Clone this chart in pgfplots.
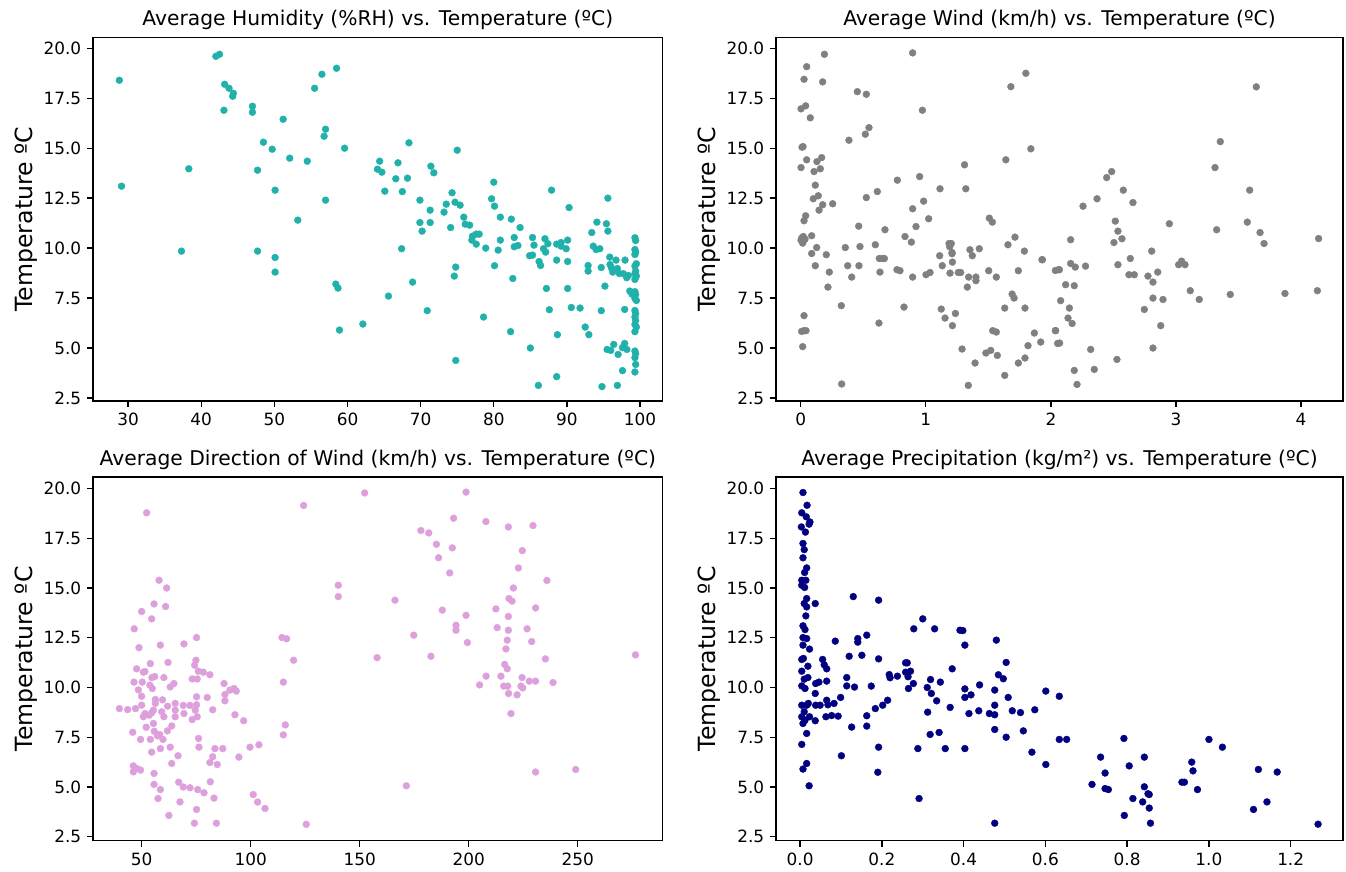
\documentclass[border=0pt]{standalone}
\usepackage{pgfplots}
\pgfplotsset{compat=1.18}
\usepackage{fontspec}
\setmainfont{DejaVu Sans}
\definecolor{cseagreen}{HTML}{20B2AA}
\definecolor{cgray}{HTML}{808080}
\definecolor{cplum}{HTML}{DDA0DD}
\definecolor{cnavy}{HTML}{000080}
\pgfplotsset{
  panel/.style={
    scale only axis, anchor=south west,
    height=215.3pt,
    axis line style={line width=0.8pt},
    tick align=outside, xtick pos=left, ytick pos=left,
    major tick length=3.5pt, tick style={black, line width=0.8pt},
    ticklabel style={font=\fontsize{10}{12}\selectfont},
    /pgf/number format/assume math mode=true,
    title style={font=\fontsize{12}{14}\selectfont, yshift=-5.3pt},
    ylabel style={font=\fontsize{14}{17}\selectfont},
    ylabel shift=-3pt,
    ylabel={Temperature ºC},
    ytick={2.5,5,7.5,10,12.5,15,17.5,20},
    yticklabel style={/pgf/number format/.cd, fixed, fixed zerofill, precision=1},
  },
  dots/.style={only marks, mark=*, color=#1, mark size=2.05pt, mark options={solid, line width=0.2pt, draw=#1, fill=#1}},
}
\begin{document}
\begin{tikzpicture}
\path[use as bounding box] (0,0) rectangle (796.83pt,516.22pt);
% ---------------- Panel 1
\begin{axis}[panel, at={(55.06pt,278.83pt)}, width=337.26pt,
  xmin=25.2, xmax=103.1, ymin=2.35, ymax=20.55,
  xtick={30,40,...,100},
  title={Average Humidity (\%RH) vs. Temperature (ºC)}]
\addplot[dots=cseagreen] table {
x y
28.8 18.4
29.1 13.1
38.3 13.97
42.0 19.6
42.5 19.7
43.2 18.2
43.8 18.0
44.4 17.75
44.3 17.6
43.1 16.9
47.0 17.1
47.0 16.8
51.2 16.45
48.5 15.3
49.7 14.95
52.1 14.5
54.5 14.35
47.7 13.9
50.1 12.9
57.0 12.4
53.2 11.4
55.5 18.0
56.5 18.7
58.5 19.0
57.0 15.95
56.8 15.6
59.6 15.0
64.4 14.35
64.1 13.95
37.3 9.85
47.7 9.85
50.1 9.53
50.1 8.8
58.4 8.2
58.7 8.0
58.9 5.9
62.1 6.2
68.4 15.27
75.0 14.9
64.7 13.8
66.9 14.27
71.4 14.1
71.8 13.77
66.6 13.47
68.2 13.5
65.1 12.85
67.5 12.83
69.9 12.4
71.3 11.9
74.3 12.77
73.5 12.2
74.7 12.3
75.4 12.15
73.2 11.8
75.9 11.55
80.0 13.3
79.7 12.47
80.1 12.1
80.9 11.55
82.4 11.45
87.9 12.9
90.3 12.03
95.6 12.5
94.1 11.3
69.9 11.28
71.3 11.28
70.2 10.85
74.1 11.03
76.1 11.2
76.7 11.15
83.6 11.03
77.1 10.6
77.6 10.7
78.0 10.7
77.0 10.4
77.6 10.2
78.9 10.0
80.6 9.9
80.9 10.4
82.8 10.53
82.8 10.07
83.3 10.13
85.3 10.53
85.5 10.15
84.9 9.62
85.3 9.65
87.0 10.47
87.4 10.22
86.8 9.97
87.1 9.8
88.6 10.2
89.2 10.28
89.2 10.1
90.1 10.4
89.9 9.97
86.2 9.33
86.4 9.13
88.6 9.4
90.1 9.33
93.4 10.78
95.4 11.22
95.6 10.85
93.6 10.1
94.0 9.93
94.5 9.97
92.9 9.13
92.9 8.85
94.7 9.03
95.9 9.18
96.1 9.0
95.86 9.55
96.72 9.4
97.95 9.4
96.27 8.8
96.9 8.98
97.17 8.73
97.72 8.72
98.18 8.52
98.4 8.63
99.3 10.52
99.4 10.38
99.3 9.93
99.4 9.8
99.3 9.68
99.5 9.22
99.3 9.1
99.4 8.85
99.3 8.72
99.5 8.6
99.3 8.43
99.3 7.82
99.4 7.68
99.3 7.48
99.5 7.38
99.3 6.88
99.4 6.72
99.3 6.55
99.4 6.38
99.3 6.18
99.5 6.05
99.3 5.82
99.3 4.85
99.4 4.72
99.3 4.52
99.4 4.18
99.3 3.8
98.6 7.85
98.9 7.7
95.2 8.1
94.7 6.87
97.9 6.93
91.8 7.0
90.6 7.03
87.6 6.92
87.2 7.98
90.1 7.98
92.5 6.05
93.0 5.67
88.7 5.67
85.0 5.0
82.3 5.82
78.6 6.55
74.8 4.38
74.8 9.05
74.6 8.6
80.1 9.12
82.6 8.48
70.9 6.87
68.9 8.3
67.4 9.97
65.6 7.6
95.5 4.93
96.0 4.88
96.4 5.18
97.0 4.68
97.6 5.02
97.9 5.23
98.2 4.93
97.6 3.87
96.9 3.13
94.8 3.07
88.6 3.57
86.1 3.13
};
\end{axis}
% ---------------- Panel 2
\begin{axis}[panel, at={(459.39pt,278.83pt)}, width=335.66pt,
  xmin=-0.197, xmax=4.335, ymin=2.35, ymax=20.55,
  xtick={0,1,2,3,4},
  title={Average Wind (km/h) vs. Temperature (ºC)}]
\addplot[dots=cgray] table {
x y
0.19 19.7
0.895 19.77
0.048 19.08
1.80 18.75
0.027 18.45
0.176 18.32
1.68 18.08
0.453 17.83
0.525 17.7
0.003 16.97
0.04 17.12
0.973 16.9
0.077 16.52
0.546 16.03
0.517 15.7
0.386 15.4
0.011 15.05
0.019 15.08
1.84 14.97
0.048 14.42
0.13 14.33
0.168 14.53
0.003 14.03
0.157 13.97
0.107 13.83
1.64 14.42
1.31 14.17
1.32 12.97
0.773 13.4
0.951 13.58
1.114 12.97
0.117 13.15
0.101 12.47
0.141 12.62
0.176 12.17
0.147 11.9
0.256 12.22
0.525 12.53
0.613 12.83
0.983 12.35
0.895 11.97
1.023 11.47
0.04 11.62
0.027 11.37
0.021 10.58
0.008 10.5
0.016 10.25
0.003 10.4
0.021 10.35
0.035 10.45
0.088 10.62
0.128 10.03
0.088 9.73
0.464 11.1
0.674 10.92
0.922 11.08
0.834 10.58
0.885 10.3
0.474 10.08
0.357 10.03
0.597 10.17
0.205 9.67
0.117 9.12
0.229 8.8
0.218 8.05
0.325 7.12
0.376 9.12
0.408 8.55
0.466 9.12
0.629 9.48
0.655 9.48
0.669 9.48
0.634 8.8
0.77 8.92
0.794 8.87
0.895 8.55
1.002 8.67
1.034 8.78
0.826 7.05
0.626 6.25
0.027 6.62
0.008 5.83
0.027 5.87
0.043 5.87
0.016 5.07
0.328 3.2
1.34 3.13
1.111 9.62
1.132 9.12
1.186 10.23
1.204 10.23
1.21 9.78
1.213 9.3
1.194 8.75
1.26 8.78
1.279 8.78
1.191 10.07
1.21 9.72
1.124 6.95
1.154 6.5
1.213 6.12
1.237 6.73
1.332 8.05
1.343 8.55
1.401 8.55
1.401 8.37
1.353 9.92
1.372 9.62
1.428 9.97
1.29 4.95
1.394 4.25
1.481 4.75
1.519 4.88
1.572 4.63
1.631 3.63
1.74 4.25
1.793 4.5
1.868 5.75
1.919 5.3
1.817 5.12
2.036 5.87
2.054 5.23
1.508 11.5
1.532 11.3
1.657 10.17
1.713 10.55
1.788 9.85
1.74 8.87
1.929 9.42
1.564 8.55
1.503 8.87
1.535 5.87
1.564 5.8
1.631 7.0
1.69 7.7
1.706 7.5
1.793 7.0
2.036 8.88
2.06 8.92
3.642 18.07
3.354 15.33
3.312 14.03
3.589 12.9
3.570 11.3
3.672 10.78
3.704 10.23
3.325 10.92
4.14 10.48
4.13 7.87
3.871 7.73
3.434 7.68
2.486 13.83
2.446 13.53
2.579 12.9
2.656 12.28
2.369 12.47
2.257 12.1
2.515 11.35
2.536 10.85
2.568 10.47
2.504 10.28
2.947 11.22
2.158 10.42
1.932 9.42
2.635 9.48
2.536 9.17
2.277 9.1
2.195 9.05
2.158 9.23
2.068 8.92
2.806 9.85
2.854 8.8
2.776 8.6
2.816 8.3
2.624 8.67
2.667 8.67
3.021 9.17
3.045 9.35
3.072 9.17
3.114 7.87
3.186 7.43
2.816 7.5
2.896 7.43
2.747 6.93
2.878 6.12
2.816 5.0
2.528 4.43
2.347 3.93
2.318 4.93
2.187 3.88
2.209 3.18
2.118 8.17
2.187 8.12
2.078 7.37
2.148 7.0
2.137 6.5
2.17 6.23
2.038 5.87
2.07 5.25
};
\end{axis}
% ---------------- Panel 3
\begin{axis}[panel, at={(55.06pt,18.53pt)}, width=337.26pt,
  xmin=27.7, xmax=289, ymin=2.3, ymax=20.58,
  xtick={50,100,...,250},
  title={Average Direction of Wind (km/h) vs. Temperature (ºC)}]
\addplot[dots=cplum] table {
x y
52.3 18.78
124.3 19.15
152.3 19.78
140.2 15.14
140.2 14.57
58.0 15.39
61.5 15.0
55.7 14.2
61.0 14.07
50.0 13.82
54.6 13.45
46.6 12.95
48.8 12.0
58.6 12.13
69.4 12.19
75.2 12.51
114.4 12.51
116.5 12.45
119.7 11.37
158.0 11.5
54.0 11.2
62.1 11.26
47.7 10.94
50.8 10.77
51.5 10.8
54.7 10.5
56.0 10.55
60.2 10.5
74.9 11.37
74.3 11.12
76.0 10.82
78.3 10.77
81.3 10.64
73.2 10.43
75.5 10.43
46.5 10.27
50.3 10.27
48.5 9.88
53.8 10.12
54.9 9.95
63.1 10.03
64.8 10.2
87.8 10.2
90.5 9.87
92.4 9.95
93.4 9.82
88.2 9.65
88.2 9.33
115.0 10.27
50.0 9.56
39.8 8.94
43.6 8.89
47.2 8.94
50.0 9.11
56.3 9.4
59.6 9.38
61.9 9.06
65.4 9.2
69.1 9.1
72.2 9.1
75.2 9.13
56.3 9.2
55.4 8.86
51.5 8.69
50.8 8.53
53.5 8.61
54.6 8.73
59.2 8.78
60.2 8.53
65.4 8.86
65.4 8.53
69.4 8.69
73.2 8.39
74.6 8.86
75.5 8.53
75.2 9.53
80.1 9.5
82.6 8.88
92.8 8.63
96.8 8.33
115.9 8.12
115.0 7.62
63.8 8.07
61.8 7.82
52.1 8.0
55.4 8.19
55.8 7.8
45.9 7.75
49.5 7.39
54.0 7.39
57.3 7.57
59.8 7.39
58.3 7.64
76.1 7.44
76.3 7.0
63.1 7.0
58.6 6.93
54.6 6.75
66.7 6.57
83.6 6.93
87.2 6.93
82.6 6.52
81.3 6.23
84.7 6.13
63.8 6.18
94.6 6.5
99.7 7.0
103.8 7.12
46.2 6.06
46.2 5.76
49.5 5.85
47.7 5.93
55.7 5.68
55.7 5.13
58.6 4.87
57.5 4.42
67.0 5.24
69.1 5.0
72.2 4.96
75.7 4.87
78.6 4.71
81.5 5.26
83.2 4.44
67.6 4.25
101.2 4.62
103.2 4.24
106.6 3.92
62.5 3.57
75.2 3.87
74.2 3.18
84.3 3.18
125.5 3.12
198.8 19.82
193.1 18.51
207.9 18.34
218.2 18.07
229.5 18.14
178.1 17.89
181.7 17.77
185.2 17.2
192.5 17.02
186.2 16.52
191.3 15.76
224.6 16.88
222.8 16.01
235.9 15.38
220.5 15.0
166.2 14.39
218.5 14.47
219.9 14.34
187.9 13.89
198.8 13.63
212.5 13.95
230.7 14.0
218.2 13.57
194.2 13.13
194.2 12.88
174.8 12.63
213.1 13.01
218.2 12.88
226.8 12.95
228.9 12.31
217.7 12.38
217.1 11.94
199.4 12.26
182.7 11.57
235.2 11.44
276.5 11.64
216.5 11.16
217.7 10.94
208.0 10.57
214.8 10.57
205.0 10.13
224.5 10.5
227.8 10.32
230.7 10.32
238.7 10.25
216.1 10.07
217.9 10.07
224.0 10.07
224.8 9.98
218.3 9.7
222.2 9.63
219.4 8.69
230.7 5.75
249.1 5.88
171.4 5.06
};
\end{axis}
% ---------------- Panel 4
\begin{axis}[panel, at={(459.39pt,18.53pt)}, width=335.66pt,
  xmin=-0.059, xmax=1.328, ymin=2.3, ymax=20.58,
  xtick={0,0.2,0.4,0.6,0.8,1.0,1.2},
  xticklabel style={/pgf/number format/.cd, fixed, fixed zerofill, precision=1},
  title={Average Precipitation (kg/m²) vs. Temperature (ºC)}]
\addplot[dots=cnavy] table {
x y
0.007 19.8
0.017 19.16
0.004 18.78
0.015 18.58
0.024 18.32
0.022 18.21
0.003 18.07
0.013 17.81
0.007 17.24
0.010 16.93
0.007 16.52
0.016 16.01
0.011 15.78
0.004 15.39
0.014 15.39
0.004 15.14
0.011 15.03
0.016 14.47
0.010 14.22
0.016 14.05
0.014 13.6
0.037 14.22
0.007 13.1
0.012 12.91
0.007 12.51
0.016 12.46
0.007 12.13
0.023 11.93
0.008 11.46
0.004 11.41
0.019 11.07
0.004 10.82
0.010 10.42
0.019 10.5
0.004 10.08
0.012 9.95
0.004 9.11
0.016 9.11
0.010 8.78
0.020 9.2
0.004 8.53
0.023 8.53
0.007 8.19
0.012 8.36
0.016 7.69
0.004 7.14
0.016 6.18
0.007 5.9
0.022 5.06
0.038 10.2
0.046 10.27
0.065 10.32
0.037 9.7
0.038 9.11
0.037 8.33
0.049 9.11
0.055 11.41
0.059 11.14
0.065 10.94
0.065 9.36
0.068 9.13
0.083 9.2
0.063 8.53
0.077 8.59
0.093 8.56
0.099 9.5
0.086 12.33
0.120 11.57
0.114 10.5
0.114 10.08
0.133 10.02
0.126 8.01
0.101 6.57
0.130 14.57
0.141 12.46
0.141 12.28
0.163 12.63
0.151 11.62
0.174 10.07
0.163 8.58
0.163 8.06
0.192 14.39
0.192 11.44
0.184 8.94
0.202 9.11
0.214 9.36
0.192 7.0
0.19 5.74
0.218 10.65
0.22 10.49
0.238 10.57
0.258 11.24
0.262 11.24
0.258 10.77
0.27 10.82
0.264 10.54
0.265 9.95
0.277 10.2
0.278 12.95
0.3 13.45
0.329 12.95
0.319 10.4
0.311 10.0
0.321 9.7
0.334 9.33
0.343 10.27
0.372 10.94
0.312 8.76
0.367 9.0
0.318 7.64
0.34 7.74
0.288 6.93
0.355 6.93
0.291 4.42
0.391 12.88
0.398 12.86
0.403 12.13
0.48 12.38
0.504 11.26
0.485 10.64
0.497 10.44
0.439 10.13
0.403 9.93
0.403 9.5
0.418 9.63
0.476 9.87
0.509 9.5
0.476 9.11
0.413 8.69
0.437 8.83
0.463 8.69
0.476 8.63
0.519 8.83
0.539 8.74
0.574 8.88
0.601 9.82
0.634 9.56
0.476 7.89
0.504 7.5
0.546 7.82
0.403 6.93
0.567 6.75
0.601 6.13
0.634 7.39
0.652 7.39
0.476 3.18
0.792 7.44
0.735 6.5
0.746 5.7
0.714 5.13
0.746 4.92
0.754 4.87
0.805 6.06
0.842 6.5
0.842 5.01
0.851 4.66
0.854 4.62
0.814 4.42
0.838 4.25
0.854 3.94
0.793 3.57
0.857 3.18
1.0 7.39
1.033 7.0
0.958 6.25
0.961 5.81
0.934 5.24
0.94 5.24
0.972 4.87
1.121 5.88
1.167 5.75
1.109 3.87
1.142 4.25
1.267 3.13
};
\end{axis}
\end{tikzpicture}
\end{document}
